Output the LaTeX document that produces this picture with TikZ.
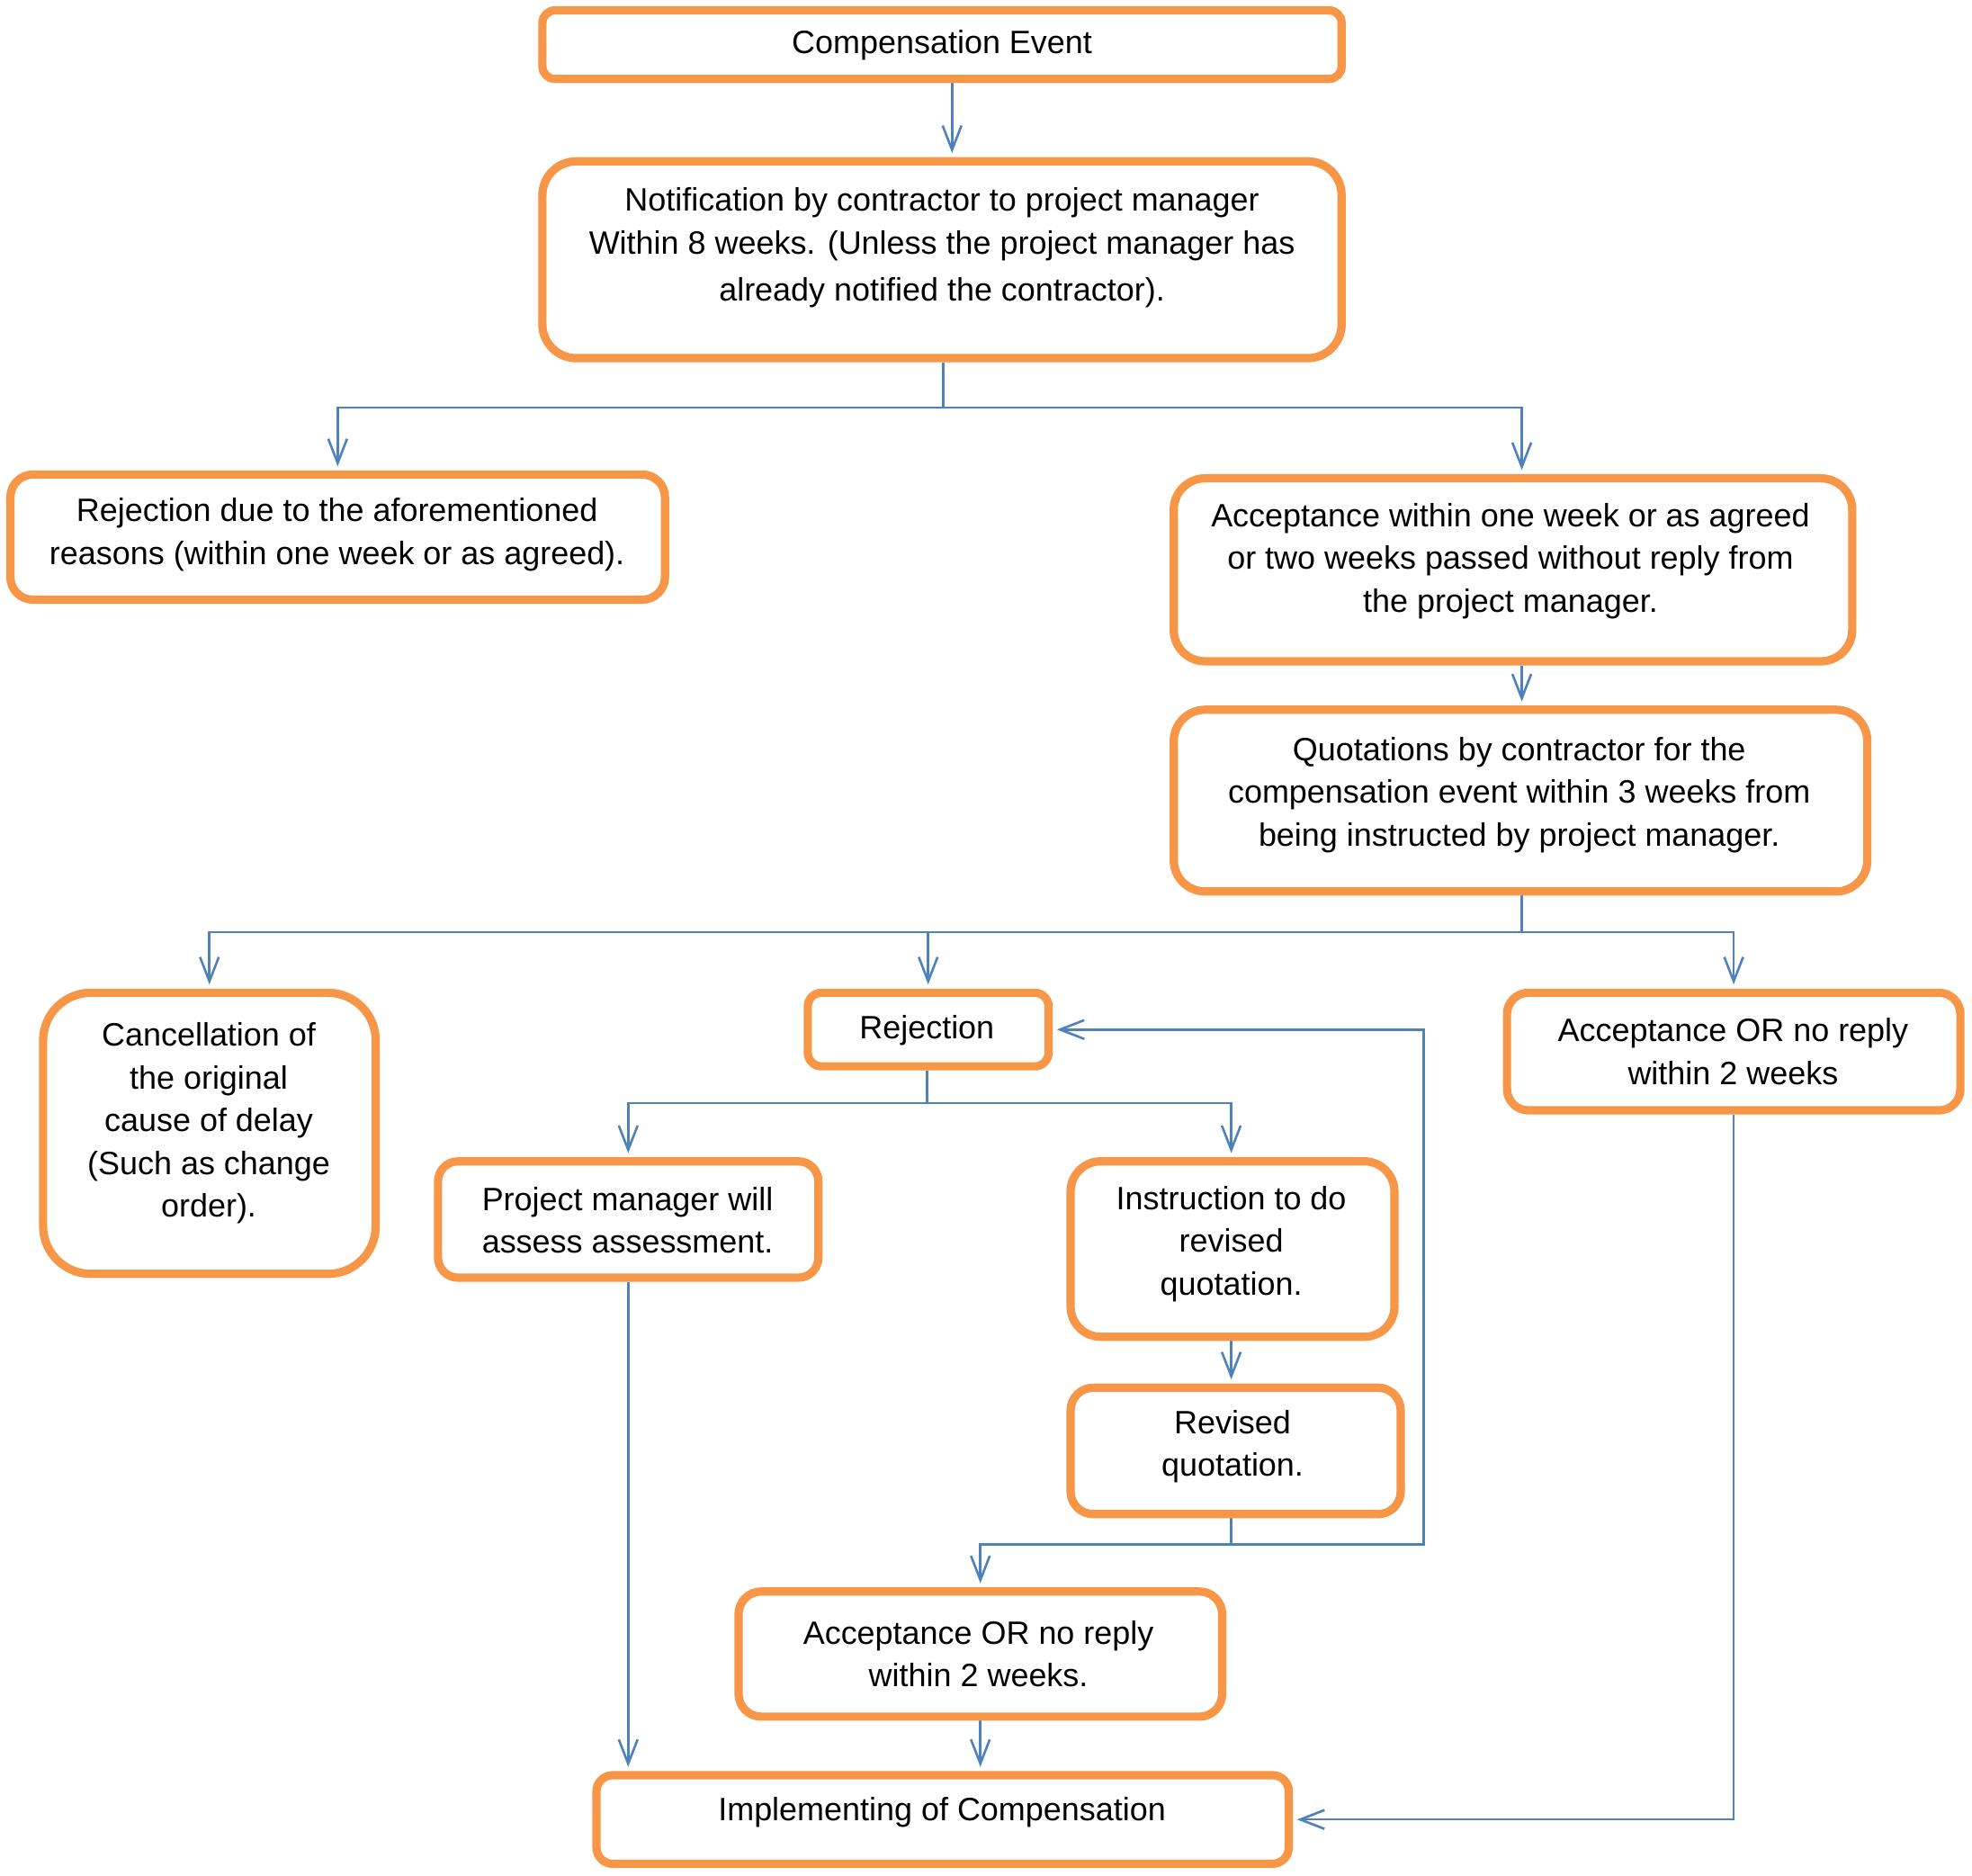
\documentclass[tikz,border=0pt]{standalone}
\usepackage{fontspec}
\setmainfont{Liberation Sans}
\usetikzlibrary{arrows.meta,backgrounds}
\definecolor{boxorange}{HTML}{F79646}
\definecolor{linkblue}{HTML}{4F81BD}
\begin{document}
\begin{tikzpicture}[x=0.7pt,y=-0.7pt,
  box/.style={draw=boxorange,line width=4.6pt,fill=white,inner sep=0pt},
  bw/.style={minimum width=#1*0.7pt},
  bh/.style={minimum height=#1*0.7pt},
  rc/.style={rounded corners=#1*0.7pt},
  txt/.style={align=center,inner sep=0pt,font=\fontsize{18}{23.8}\selectfont},
  conn/.style={draw=linkblue,line width=1.3pt},
  arr/.style={conn,-{Straight Barb[length=13.5pt,width=10.5pt]},shorten >=2.3pt},
]
\useasboundingbox (0,0) rectangle (1568,1491);
\begin{pgfonlayer}{background}
\fill[white] (0,0) rectangle (1568,1491);
\end{pgfonlayer}

% boxes
\node[box,bw=635.5,bh=54.5,rc=10] (ce) at (749,35.5) {};
\node[box,bw=635.5,bh=156.5,rc=27] (notif) at (749,206.5) {};
\node[box,bw=520.5,bh=99.5,rc=18] (rejdue) at (268.5,427) {};
\node[box,bw=539.5,bh=145.5,rc=25] (acc1) at (1203,453) {};
\node[box,bw=551.5,bh=144.5,rc=25] (quot) at (1209,636.5) {};
\node[box,bw=264.5,bh=223.5,rc=38] (canc) at (166.5,901) {};
\node[box,bw=191.5,bh=58.5,rc=11] (rej) at (738,818.5) {};
\node[box,bw=360.5,bh=93.5,rc=17] (accR) at (1378.5,836) {};
\node[box,bw=302.5,bh=92.5,rc=16] (pm) at (499.5,969.5) {};
\node[box,bw=257.5,bh=139.5,rc=24] (instr) at (980,993) {};
\node[box,bw=262.5,bh=100.5,rc=18] (rev) at (982.5,1153.5) {};
\node[box,bw=384.5,bh=99.5,rc=18] (accB) at (779.5,1315) {};
\node[box,bw=550.5,bh=70.5,rc=13] (impl) at (749.5,1446.5) {};

% texts
\node[txt] (ce-t) at (749,36) {Compensation Event};
\node[txt] (notif-t) at (749,197) {Notification by contractor to project manager\\Within 8 weeks. (Unless the project manager has\\[2.5pt]already notified the contractor).};
\node[txt] (rejdue-t) at (268,425) {Rejection due to the aforementioned\\reasons (within one week or as agreed).};
\node[txt] (acc1-t) at (1201,446) {Acceptance within one week or as agreed\\or two weeks passed without reply from\\the project manager.};
\node[txt] (quot-t) at (1208,632) {Quotations by contractor for the\\compensation event within 3 weeks from\\being instructed by project manager.};
\node[txt] (canc-t) at (166,893) {Cancellation of\\the original\\cause of delay\\(Such as change\\order).};
\node[txt] (rej-t) at (737,819) {Rejection};
\node[txt] (accR-t) at (1378,836) {Acceptance OR no reply\\within 2 weeks};
\node[txt] (pm-t) at (499,970) {Project manager will\\assess assessment.};
\node[txt] (instr-t) at (979,989) {Instruction to do\\revised\\quotation.};
\node[txt] (rev-t) at (980,1150) {Revised\\quotation.};
\node[txt] (accB-t) at (778,1315) {Acceptance OR no reply\\within 2 weeks.};
\node[txt] (impl-t) at (749,1441) {Implementing of Compensation};

% junction coordinates
\coordinate (j0) at (757,0);
\coordinate (j1) at (750,324);
\coordinate (j2) at (1210,741);
\coordinate (j3) at (737,877);
\coordinate (j4) at (979,1228);
\coordinate (k1) at (1132,1228);

\begin{pgfonlayer}{background}
\draw[arr] (ce.south -| j0) -- (notif.north -| j0);
\draw[conn] (notif.south -| j1) -- (j1);
\draw[arr] (j1) -| (rejdue.north);
\draw[arr] (j1) -| (acc1.north -| j2);
\draw[arr] (acc1.south -| j2) -- (quot.north -| j2);
\draw[conn] (quot.south -| j2) -- (j2);
\draw[arr] (j2) -| (canc.north);
\draw[arr] (j2) -| (rej.north);
\draw[arr] (j2) -| (accR.north);
\draw[conn] (rej.south -| j3) -- (j3);
\draw[arr] (j3) -| (pm.north);
\draw[arr] (j3) -| (instr.north -| j4);
\draw[arr] (instr.south -| j4) -- (rev.north -| j4);
\draw[conn] (rev.south -| j4) -- (j4);
\draw[arr] (j4) -| (accB.north);
\draw[arr] (j4) -- (k1) |- (rej.east);
\draw[arr] (accB.south) -- (accB.south |- impl.north);
\draw[arr] (pm.south) -- (pm.south |- impl.north);
\draw[arr] (accR.south) |- (impl.east);
\end{pgfonlayer}
\end{tikzpicture}
\end{document}
